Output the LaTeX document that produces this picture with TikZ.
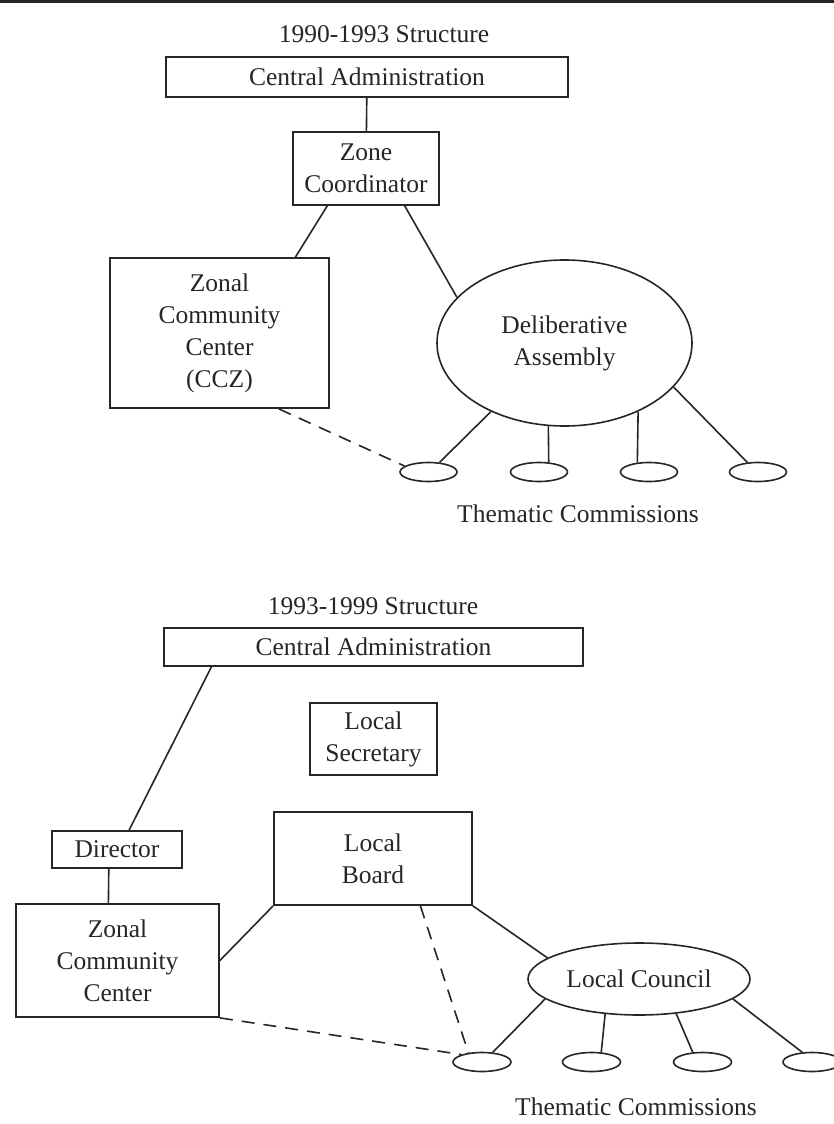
\documentclass[tikz,border=0pt]{standalone}
\usepackage{fontspec}
\setmainfont{Liberation Serif}
\usetikzlibrary{shapes.geometric}

\begin{document}
\begin{tikzpicture}[x=1pt,y=-1pt,line width=1.6pt,draw=black!85,
    every node/.style={font=\fontsize{25.5}{32}\selectfont,text=black!85},
    box node/.style={draw,rectangle,inner sep=0pt,align=center,line width=1.8pt},
    oval node/.style={draw,ellipse,inner sep=0pt,align=center},
    commission/.style={draw,ellipse,inner sep=0pt,minimum width=57,minimum height=19},
    weak/.style={dash pattern=on 13pt off 9pt}]
            \useasboundingbox (0,0) rectangle (834,1124);
            \draw[line width=3pt] (0,1.5) -- (834,1.5);

            % 1990-1993
            \node[anchor=base] at (384,43) (title1) {1990-1993 Structure};
            \node[box node,minimum width=402,minimum height=40] at (367,77) (ca1) {Central Administration};
            \node[box node,minimum width=146,minimum height=73] at (366,168.5) (zc) {Zone\\Coordinator};
            \node[box node,minimum width=219,minimum height=150] at (219.5,333) (ccz) {Zonal\\Community\\Center\\(CCZ)};
            \node[oval node,minimum width=255,minimum height=166] at (564.5,343) (da) {Deliberative\\Assembly};
            \node[commission] at (428.5,472) (tc1) {};
            \node[commission] at (539,472) (tc2) {};
            \node[commission] at (649,472) (tc3) {};
            \node[commission] at (758,472) (tc4) {};
            \node[anchor=base] at (578,522) (them1) {Thematic Commissions};

            \path (ca1) edge (zc)
                (zc.224) edge (ccz.45)
                (zc.-44) edge (da.157)
                (da.-137) edge (tc1.41)
                (da.-101) edge (tc2.45)
                (da.-43) edge (tc3.141)
                (da.-22) edge (tc4.138);
            \path[weak] (ccz.-52) edge (tc1.166);

            % 1993-1999
            \node[anchor=base] at (373,614) (title2) {1993-1999 Structure};
            \node[box node,minimum width=419,minimum height=38] at (373.5,647) (ca2) {Central Administration};
            \node[box node,minimum width=127,minimum height=72] at (373.5,739) (ls) {Local\\Secretary};
            \node[box node,minimum width=130,minimum height=37] at (117,849.5) (dir) {Director};
            \node[box node,minimum width=198,minimum height=93] at (373,858.5) (lb) {Local\\Board};
            \node[box node,minimum width=203,minimum height=113] at (117.5,960.5) (zcc) {Zonal\\Community\\Center};
            \node[oval node,minimum width=222,minimum height=72] at (639,979) (lc) {Local Council};
            \node[commission,minimum width=58] at (482,1062) (tc5) {};
            \node[commission,minimum width=58] at (591.5,1062) (tc6) {};
            \node[commission,minimum width=58] at (702.5,1062) (tc7) {};
            \node[commission,minimum width=58] at (812,1062) (tc8) {};
            \node[anchor=base] at (636,1115) (them2) {Thematic Commissions};

            \path (ca2.-173) edge (dir.58)
                (dir.-113) edge (zcc.99)
                (zcc.east) edge (lb.south west)
                (lb.south east) edge (lc.167)
                (lc.-168) edge (tc5.42)
                (lc.-134) edge (tc6.45)
                (lc.-43) edge (tc7.135)
                (lc.-12) edge (tc8.135);
            \path[weak] (lb.-45) edge (tc5.146)
                (zcc.south east) edge (tc5.160);
        \end{tikzpicture}
\end{document}
